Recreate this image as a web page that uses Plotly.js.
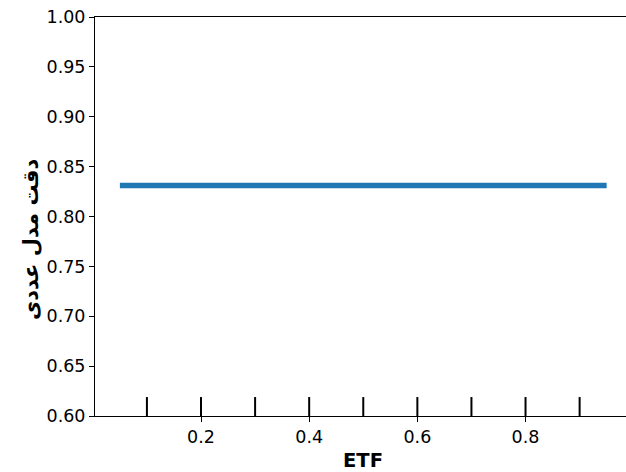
<!DOCTYPE html>
<html>
<head>
<meta charset="utf-8">
<script src="https://cdn.plot.ly/plotly-3.0.1.min.js"></script>
<style>html,body{margin:0;padding:0;overflow:hidden;background:#fff;}#chart{width:640px;height:472px;}</style>
</head>
<body>
<div id="chart"></div>
<script>
// Partial dependence line
var pdX = [0.05, 0.95];
var pdY = [0.831, 0.831];
// Decile rug marks
var deciles = [0.1, 0.2, 0.3, 0.4, 0.5, 0.6, 0.7, 0.8, 0.9];
var rugBase = 0.60;
var rugTop = 0.619;
var yTickVals = [0.60, 0.65, 0.70, 0.75, 0.80, 0.85, 0.90, 0.95, 1.00];
var xTickVals = [0.2, 0.4, 0.6, 0.8];
var xTitle = 'ETF';
var yTitle = 'دقت مدل عددی';

var rugX = [], rugY = [];
deciles.forEach(function (d) { rugX.push(d, d, null); rugY.push(rugBase, rugTop, null); });

var traces = [
  {x: pdX, y: pdY, mode: 'lines', line: {color: '#1f77b4', width: 5.5}, hoverinfo: 'skip'},
  {x: rugX, y: rugY, mode: 'lines', line: {color: '#000000', width: 2}, hoverinfo: 'skip'}
];

var tickFont = {family: 'DejaVu Sans, sans-serif', size: 17.5, color: '#000'};
var layout = {
  width: 640, height: 472,
  margin: {l: 95, r: 9, t: 17, b: 56},
  paper_bgcolor: '#fff', plot_bgcolor: '#fff',
  showlegend: false,
  font: tickFont,
  xaxis: {
    range: [0.004, 0.995],
    tickvals: xTickVals, tickformat: '.1f',
    ticks: 'outside', ticklen: 5, tickwidth: 1, tickcolor: '#000',
    showline: true, linecolor: '#000', linewidth: 1, mirror: true,
    showgrid: false, zeroline: false,
    tickfont: tickFont,
    title: {text: xTitle, font: {family: 'DejaVu Sans, sans-serif', size: 19.5, color: '#000', weight: 'bold'}, standoff: 7}
  },
  yaxis: {
    range: [0.6, 1.0],
    tickvals: yTickVals, tickformat: '.2f',
    ticks: 'outside', ticklen: 5, tickwidth: 1, tickcolor: '#000',
    showline: true, linecolor: '#000', linewidth: 1, mirror: true,
    showgrid: false, zeroline: false,
    tickfont: tickFont
  },
  annotations: [{
    text: yTitle, textangle: -90, showarrow: false,
    xref: 'paper', yref: 'paper', x: -0.1194, y: 0.441,
    xanchor: 'center', yanchor: 'middle',
    font: {family: 'DejaVu Sans, sans-serif', size: 21, color: '#000', weight: 'bold'}
  }]
};
Plotly.newPlot('chart', traces, layout, {displayModeBar: false, staticPlot: true});
</script>
</body>
</html>
